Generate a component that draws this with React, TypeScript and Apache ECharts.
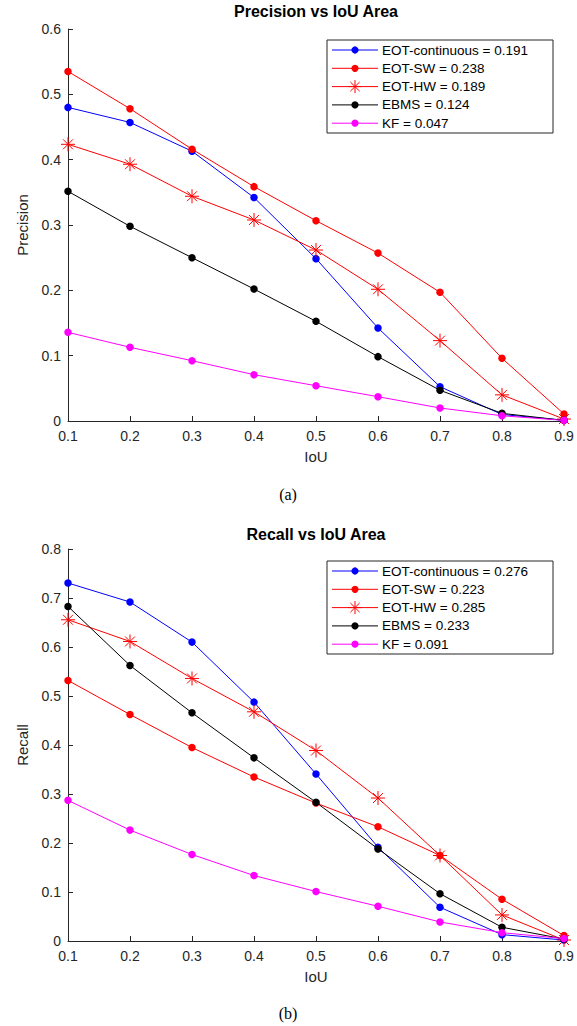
import React, { useEffect, useRef } from "react";
import * as echarts from "echarts";

const iouLabels = ["0.1", "0.2", "0.3", "0.4", "0.5", "0.6", "0.7", "0.8", "0.9"];

const methodNames = ["EOT-continuous", "EOT-SW", "EOT-HW", "EBMS", "KF"];
const methodColors = ["#0000ff", "#ff0000", "#ff0000", "#000000", "#ff00ff"];
const methodMarkers = ["circle", "circle", "asterisk", "circle", "circle"];

const precisionAreas = ["0.191", "0.238", "0.189", "0.124", "0.047"];
const recallAreas = ["0.276", "0.223", "0.285", "0.233", "0.091"];

const precisionEOTcont = [0.48, 0.457, 0.413, 0.342, 0.2485, 0.1423, 0.0525, 0.01, 0.001];
const precisionEOTSW = [0.535, 0.478, 0.416, 0.3587, 0.3066, 0.257, 0.197, 0.096, 0.0107];
const precisionEOTHW = [0.4235, 0.393, 0.344, 0.3077, 0.2617, 0.2016, 0.123, 0.04, 0.003];
const precisionEBMS = [0.3516, 0.298, 0.25, 0.202, 0.1526, 0.0985, 0.047, 0.0117, 0.001];
const precisionKF = [0.1357, 0.1128, 0.0923, 0.0709, 0.054, 0.0372, 0.0199, 0.008, 0.001];

const recallEOTcont = [0.7306, 0.6918, 0.61, 0.4875, 0.3408, 0.1915, 0.0688, 0.013, 0.002];
const recallEOTSW = [0.5317, 0.4622, 0.3948, 0.3347, 0.2815, 0.2331, 0.1745, 0.0852, 0.011];
const recallEOTHW = [0.6556, 0.6113, 0.5358, 0.4677, 0.3887, 0.2918, 0.1745, 0.0532, 0.002];
const recallEBMS = [0.6828, 0.5623, 0.4657, 0.3738, 0.283, 0.188, 0.0965, 0.028, 0.004];
const recallKF = [0.287, 0.2263, 0.1765, 0.1336, 0.1009, 0.0709, 0.0389, 0.017, 0.005];

const precisionSeries = [precisionEOTcont, precisionEOTSW, precisionEOTHW, precisionEBMS, precisionKF];
const recallSeries = [recallEOTcont, recallEOTSW, recallEOTHW, recallEBMS, recallKF];

const FONT = "'Liberation Sans', Arial, Helvetica, sans-serif";
const AXIS_COLOR = "#262626";
const ASTERISK =
  "path://M0,-1L0,1M-1,0L1,0M-0.707,-0.707L0.707,0.707M-0.707,0.707L0.707,-0.707";

function makeAxes(gi: number, max: number, yName: string) {
  const x = {
    type: "category",
    gridIndex: gi,
    data: iouLabels,
    boundaryGap: false,
    axisLine: { lineStyle: { color: AXIS_COLOR, width: 1 } },
    axisTick: { inside: true, length: 5, lineStyle: { color: AXIS_COLOR } },
    axisLabel: { color: AXIS_COLOR, fontSize: 14, margin: 8, fontFamily: FONT },
    splitLine: { show: false },
    name: "IoU",
    nameLocation: "middle",
    nameGap: 28,
    nameTextStyle: { color: AXIS_COLOR, fontSize: 15, fontFamily: FONT },
  };
  const y = {
    type: "value",
    gridIndex: gi,
    min: 0,
    max,
    interval: 0.1,
    axisLine: { show: true, lineStyle: { color: AXIS_COLOR, width: 1 } },
    axisTick: { show: true, inside: true, length: 5, lineStyle: { color: AXIS_COLOR } },
    axisLabel: {
      color: AXIS_COLOR,
      fontSize: 14,
      margin: 7,
      fontFamily: FONT,
      formatter: (v: number) => (v === 0 ? "0" : v.toFixed(1)),
    },
    splitLine: { show: false },
    name: yName,
    nameLocation: "middle",
    nameGap: 38,
    nameTextStyle: { color: AXIS_COLOR, fontSize: 15, fontFamily: FONT },
  };
  return { x, y };
}

function makeSeries(gi: number, values: number[][]) {
  return values.map((d, i) => {
    const isAst = methodMarkers[i] === "asterisk";
    return {
      type: "line",
      name: methodNames[i],
      xAxisIndex: gi,
      yAxisIndex: gi,
      data: d,
      symbol: isAst ? ASTERISK : "circle",
      symbolSize: isAst ? 14 : 7.5,
      showSymbol: true,
      lineStyle: { color: methodColors[i], width: 1 },
      itemStyle: isAst
        ? { color: methodColors[i], borderColor: methodColors[i], borderWidth: 1 }
        : { color: methodColors[i], borderWidth: 0 },
      emphasis: { disabled: true },
      silent: true,
      z: 2 + i,
    };
  });
}

function makeLegend(top: number, areas: string[]) {
  const left = 327;
  const children: any[] = [
    {
      type: "rect",
      shape: { x: left, y: top, width: 226, height: 93 },
      style: { fill: "#ffffff", stroke: AXIS_COLOR, lineWidth: 1 },
    },
  ];
  methodNames.forEach((name, i) => {
    const cy = top + 10 + i * 18.3;
    const color = methodColors[i];
    children.push({
      type: "line",
      shape: { x1: left + 5, y1: cy, x2: left + 51, y2: cy },
      style: { stroke: color, lineWidth: 1 },
    });
    const mx = left + 28;
    if (methodMarkers[i] === "asterisk") {
      const r = 6.5;
      const d = r * 0.707;
      [
        [0, -r, 0, r],
        [-r, 0, r, 0],
        [-d, -d, d, d],
        [-d, d, d, -d],
      ].forEach(([a, b, c, e]) => {
        children.push({
          type: "line",
          shape: { x1: mx + a, y1: cy + b, x2: mx + c, y2: cy + e },
          style: { stroke: color, lineWidth: 1 },
        });
      });
    } else {
      children.push({
        type: "circle",
        shape: { cx: mx, cy, r: 3.6 },
        style: { fill: color },
      });
    }
    children.push({
      type: "text",
      x: left + 55,
      y: cy,
      style: {
        text: `${name} = ${areas[i]}`,
        fill: "#000000",
        font: `13.5px ${FONT}`,
        textAlign: "left",
        textVerticalAlign: "middle",
        verticalAlign: "middle",
      },
    });
  });
  return { type: "group", z: 100, children };
}

export default function App() {
  const ref = useRef<HTMLDivElement>(null);
  useEffect(() => {
    document.body.style.margin = "0";
    if (!ref.current) return;
    const chart = echarts.init(ref.current, undefined, { renderer: "svg" });
    const a = makeAxes(0, 0.6, "Precision");
    const b = makeAxes(1, 0.8, "Recall");
    const titleStyle = { fontSize: 16, fontWeight: "bold", color: "#000", fontFamily: FONT };
    chart.setOption({
      animation: false,
      backgroundColor: "#ffffff",
      textStyle: { fontFamily: FONT },
      title: [
        {
          text: "Precision vs IoU Area",
          left: 316,
          top: 3,
          padding: 0,
          textAlign: "center",
          textStyle: titleStyle,
        },
        {
          text: "Recall vs IoU Area",
          left: 316,
          top: 526,
          padding: 0,
          textAlign: "center",
          textStyle: titleStyle,
        },
      ],
      grid: [
        { left: 68, top: 29, width: 496, height: 392, containLabel: false },
        { left: 68, top: 549, width: 496, height: 392, containLabel: false },
      ],
      xAxis: [a.x, b.x],
      yAxis: [a.y, b.y],
      series: [...makeSeries(0, precisionSeries), ...makeSeries(1, recallSeries)],
      graphic: [
        makeLegend(40, precisionAreas),
        makeLegend(561, recallAreas),
        {
          type: "text",
          x: 288,
          y: 494,
          style: {
            text: "(a)",
            fill: "#000",
            font: "16px 'Liberation Serif', 'Times New Roman', serif",
            textAlign: "center",
            textVerticalAlign: "middle",
            verticalAlign: "middle",
          },
        },
        {
          type: "text",
          x: 288,
          y: 1013,
          style: {
            text: "(b)",
            fill: "#000",
            font: "16px 'Liberation Serif', 'Times New Roman', serif",
            textAlign: "center",
            textVerticalAlign: "middle",
            verticalAlign: "middle",
          },
        },
      ],
    });
    return () => chart.dispose();
  }, []);
  return <div ref={ref} style={{ width: 577, height: 1026 }} />;
}
